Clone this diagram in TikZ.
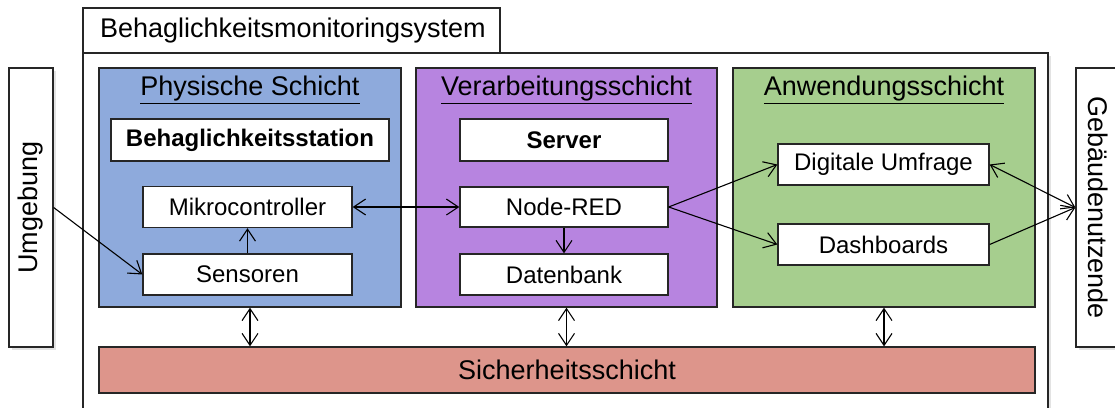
\documentclass[tikz,border=0pt]{standalone}
\usepackage{fontspec}
\setmainfont{Liberation Sans}
\usepackage{xcolor}
\usetikzlibrary{arrows.meta,shadows}

\definecolor{physblue}{RGB}{142,170,220}
\definecolor{verpurple}{RGB}{183,132,224}
\definecolor{anwgreen}{RGB}{166,206,142}
\definecolor{sichred}{RGB}{221,149,139}

\newcommand{\hdfont}{\fontsize{27}{32}\selectfont}
\newcommand{\bxfont}{\fontsize{24}{28}\selectfont}

\begin{document}
\begin{tikzpicture}[
  x=1pt, y=-1pt,
  font=\hdfont,
  >={Straight Barb[length=12pt,width=16pt]},
  frame/.style={draw=black!85, line width=1.3pt, fill=white, inner sep=0pt},
  shade/.style={drop shadow={shadow xshift=3pt, shadow yshift=-3pt, opacity=0.22}},
  layer/.style={draw=black!85, line width=1.3pt, inner sep=0pt},
  item/.style={draw=black!85, line width=1.3pt, fill=white, inner sep=0pt,
               font=\bxfont, minimum width=209pt, minimum height=41pt},
  flow/.style={->, line width=1.1pt},
  both/.style={<->, line width=1.1pt}
]
\useasboundingbox (0,0) rectangle (1115,407);
% system frame with title tab
\node[frame, shade, minimum width=965pt, minimum height=367pt] (sys) at (565.5,236.5) {};
\node[frame, minimum height=45pt, inner xsep=17pt, text width=383pt, align=left]
  (tab) at (291.5,30.5) {Behaglichkeitsmonitoringsystem};
% outside actors
\node[frame, shade, rotate=90, minimum width=279pt, minimum height=44pt] (umg) at (31,207.5) {Umgebung};
\node[frame, shade, rotate=-90, minimum width=279pt, minimum height=44pt] (nutz) at (1098,207.5) {Gebäudenutzende};
% layers
\node[layer, fill=physblue,  minimum width=302pt, minimum height=239pt] (phys)   at (250,187.5)   {};
\node[layer, fill=verpurple, minimum width=301pt, minimum height=239pt] (verarb) at (566.5,187.5) {};
\node[layer, fill=anwgreen,  minimum width=302pt, minimum height=239pt] (anw)    at (884,187.5)   {};
\node[layer, fill=sichred,   minimum width=936pt, minimum height=46pt]  (sich)   at (567,370)     {Sicherheitsschicht};
\node (physT) at (250,90)   {\underline{Physische Schicht}};
\node (verT)  at (566.5,90) {\underline{Verarbeitungsschicht}};
\node (anwT)  at (884,90)   {\underline{Anwendungsschicht}};
% boxes
\node[item, minimum width=278pt, minimum height=42pt] (stat) at (250,140) {\textbf{Behaglichkeitsstation}};
\node[item] (mikro) at (247.5,207)   {Mikrocontroller};
\node[item] (sens)  at (247.5,274.5) {Sensoren};
\node[item, minimum width=208pt, minimum height=42pt] (srv) at (564,140) {\textbf{Server}};
\node[item, minimum width=208pt, minimum height=40pt] (nred) at (564,207) {Node-RED};
\node[item, minimum width=208pt] (db)    at (564,274.5)   {Datenbank};
\node[item, minimum width=211pt] (umfr)  at (883.5,164.5) {Digitale Umfrage};
\node[item, minimum width=211pt] (dash)  at (883.5,244.5) {Dashboards};
% connections
\draw[flow] (umg.south) -- (sens.west);
\draw[flow] (sens) -- (mikro);
\draw[both] (mikro) -- (nred);
\draw[flow] (nred) -- (db);
\draw[flow] (nred.east) -- (umfr.west);
\draw[flow] (nred.east) -- (dash.west);
\draw[both] (umfr.east) -- (nutz.south);
\draw[flow] (dash.east) -- (nutz.south);
\draw[both] (phys.south) -- (phys.south |- sich.north);
\draw[both] (verarb.south) -- (verarb.south |- sich.north);
\draw[both] (anw.south) -- (anw.south |- sich.north);
\end{tikzpicture}
\end{document}
